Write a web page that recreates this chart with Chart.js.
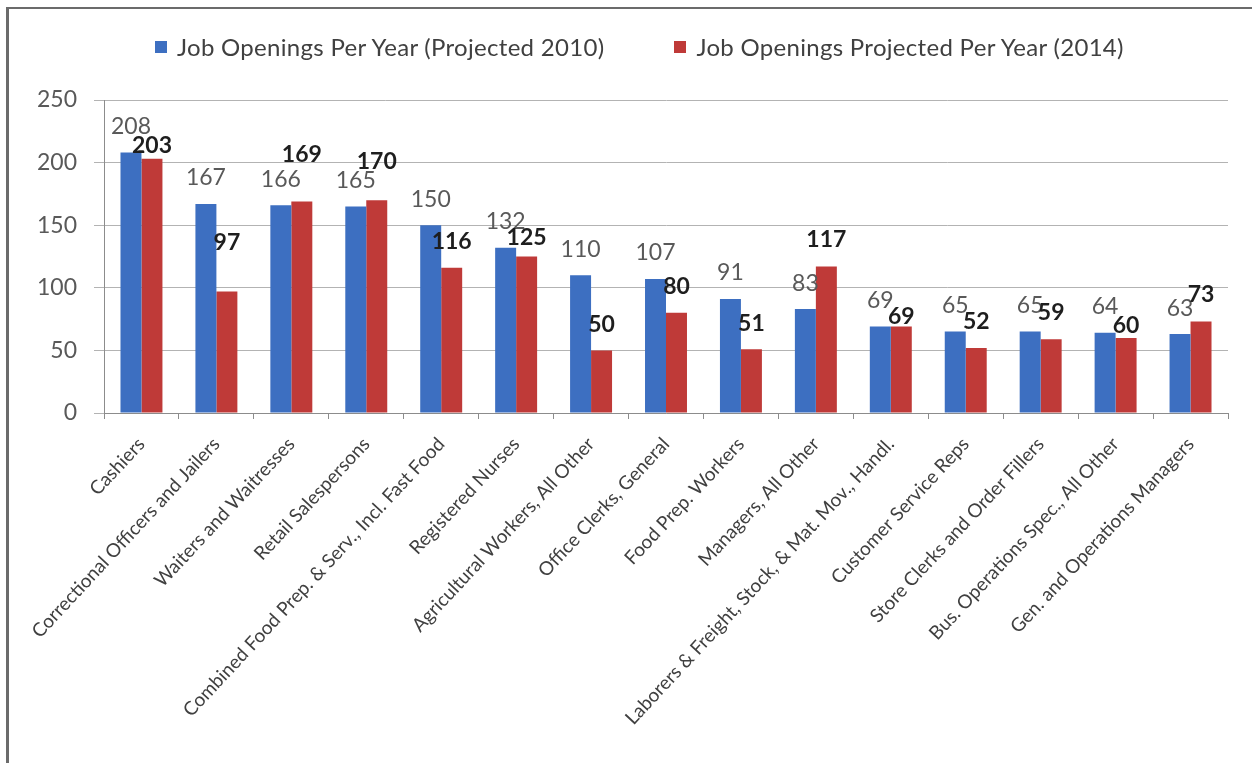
<!DOCTYPE html>
<html>
<head>
<meta charset="utf-8">
<script src="https://cdn.jsdelivr.net/npm/chart.js@4.4.1/dist/chart.umd.min.js"></script>
<style>
  html, body { margin: 0; padding: 0; background: #fff; }
  #wrap { position: relative; width: 1252px; height: 763px; overflow: hidden; }
  #frame { position: absolute; left: 6px; top: 7px; right: -10px; bottom: -10px;
           border-left: 3px solid #6b6b6b; border-top: 2px solid #6b6b6b; pointer-events: none; }
  #legend { position: absolute; left: 155px; top: 32px; display: flex; gap: 70px;
            font-family: Lato, sans-serif; font-size: 24px; letter-spacing: 0.3px; color: #404040; }
  #legend .item { display: flex; align-items: center; }
  #legend .box { width: 12px; height: 12px; margin-right: 10px; }
  canvas { position: absolute; left: 0; top: 0; }
</style>
</head>
<body>
<div id="wrap">
  <canvas id="jobs" width="1252" height="763"></canvas>
  <div id="legend"></div>
  <div id="frame"></div>
</div>
<script>
// occupations, largest 2010 projection first
const occupations = [
  "Cashiers",
  "Correctional Officers and Jailers",
  "Waiters and Waitresses",
  "Retail Salespersons",
  "Combined Food Prep. & Serv., Incl. Fast Food",
  "Registered Nurses",
  "Agricultural Workers, All Other",
  "Office Clerks, General",
  "Food Prep. Workers",
  "Managers, All Other",
  "Laborers & Freight, Stock, & Mat. Mov., Handl.",
  "Customer Service Reps",
  "Store Clerks and Order Fillers",
  "Bus. Operations Spec., All Other",
  "Gen. and Operations Managers"
];
const openings2010 = [208, 167, 166, 165, 150, 132, 110, 107, 91, 83, 69, 65, 65, 64, 63];
const openings2014 = [203, 97, 169, 170, 116, 125, 50, 80, 51, 117, 69, 52, 59, 60, 73];
const yTicks = [0, 50, 100, 150, 200, 250];

const seriesNames = ["Job Openings Per Year (Projected 2010)", "Job Openings Projected Per Year (2014)"];
const BLUE = "#3d6fc1";
const RED = "#bf3a38";

// how far (px) each value label sits above its bar; 2014 labels were dragged around a bit
const lift2010 = 26;
const lift2014 = [13, 49, 47, 39, 26, 19, 26, 26, 26, 27, 10, 26, 27, 12, 27];

const barValues = {
  id: "barValues",
  afterDatasetsDraw(chart) {
    const ctx = chart.ctx;
    ctx.save();
    ctx.textAlign = "center";
    ctx.textBaseline = "middle";
    chart.data.datasets.forEach((ds, i) => {
      const meta = chart.getDatasetMeta(i);
      ctx.font = (i === 1 ? "bold " : "") + "23px Lato";
      ctx.fillStyle = i === 1 ? "#1e1e1e" : "#595959";
      meta.data.forEach((bar, j) => {
        const lift = i === 1 ? lift2014[j] : lift2010;
        ctx.fillText(String(ds.data[j]), bar.x, bar.y - lift);
      });
    });
    ctx.restore();
  }
};

function buildLegend(chart) {
  const box = document.getElementById("legend");
  chart.data.datasets.forEach(ds => {
    const item = document.createElement("div");
    item.className = "item";
    const sw = document.createElement("span");
    sw.className = "box";
    sw.style.background = ds.backgroundColor;
    const txt = document.createElement("span");
    txt.textContent = ds.label;
    item.appendChild(sw);
    item.appendChild(txt);
    box.appendChild(item);
  });
}

function draw() {
  const chart = new Chart(document.getElementById("jobs"), {
    type: "bar",
    data: {
      labels: occupations,
      datasets: [
        { label: seriesNames[0], data: openings2010, backgroundColor: BLUE },
        { label: seriesNames[1], data: openings2014, backgroundColor: RED }
      ]
    },
    options: {
      responsive: false,
      animation: false,
      layout: { padding: { top: 100, right: 24, bottom: 10, left: 0 } },
      datasets: { bar: { categoryPercentage: 0.56, barPercentage: 1, borderWidth: 0 } },
      plugins: { legend: { display: false }, tooltip: { enabled: false } },
      scales: {
        x: {
          grid: { offset: true, drawOnChartArea: false, tickLength: 6, color: "#8c8c8c" },
          border: { color: "#8c8c8c" },
          ticks: {
            autoSkip: false, minRotation: 47, maxRotation: 47, padding: 14,
            color: "#404040", font: { family: "Lato", size: 19 }
          },
          afterFit(scale) { scale.height = 340; }
        },
        y: {
          min: 0, max: 250,
          afterBuildTicks(scale) { scale.ticks = yTicks.map(v => ({ value: v })); },
          grid: { color: "#b3b3b3", tickLength: 10 },
          border: { color: "#8c8c8c" },
          ticks: { padding: 17, color: "#595959", font: { family: "Lato", size: 23 } },
          afterFit(scale) { scale.width = 104; }
        }
      }
    },
    plugins: [barValues]
  });
  buildLegend(chart);
}

Promise.all([
  document.fonts.load("19px Lato"),
  document.fonts.load("23px Lato"),
  document.fonts.load("bold 23px Lato")
]).then(draw, draw);
</script>
</body>
</html>
